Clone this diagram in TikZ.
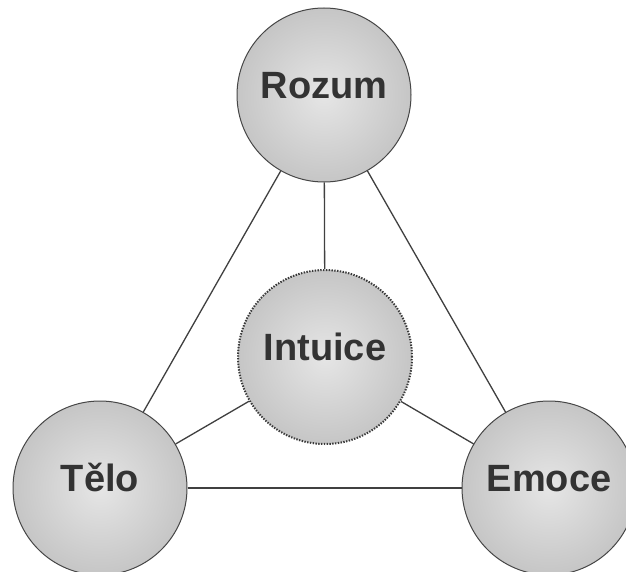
\documentclass[tikz,border=0pt]{standalone}
\usepackage{fontspec}
\setmainfont{Liberation Sans}
\begin{document}
\begin{tikzpicture}[x=1pt,y=-1pt,
  ball/.style={circle, minimum size=174pt, inner sep=0pt,
    shading=radial, inner color=gray!20, outer color=gray!45,
    draw=gray!55!black, line width=1pt,
    font=\fontsize{38}{40}\selectfont\bfseries, text=black!80,
    text height=0.72em, text depth=0pt},
  core/.style={ball, draw=gray!45!black, line width=2pt, dash pattern=on 1.4pt off 1.4pt},
  link/.style={draw=black!75, line width=1.3pt}]
\useasboundingbox[fill=white] (0,0) rectangle (626,572);
\node[ball] (rozum) at (324,95) {Rozum};
\node[core] (intuice) at (325,357) {Intuice};
\node[ball] (telo) at (100,488) {Tělo};
\node[ball] (emoce) at (549,488) {Emoce};
\draw[link] (rozum) -- (telo);
\draw[link] (rozum) -- (emoce);
\draw[link] (rozum) -- (intuice);
\draw[link] (intuice) -- (telo);
\draw[link] (intuice) -- (emoce);
\draw[link] (telo) -- (emoce);
\end{tikzpicture}
\end{document}
